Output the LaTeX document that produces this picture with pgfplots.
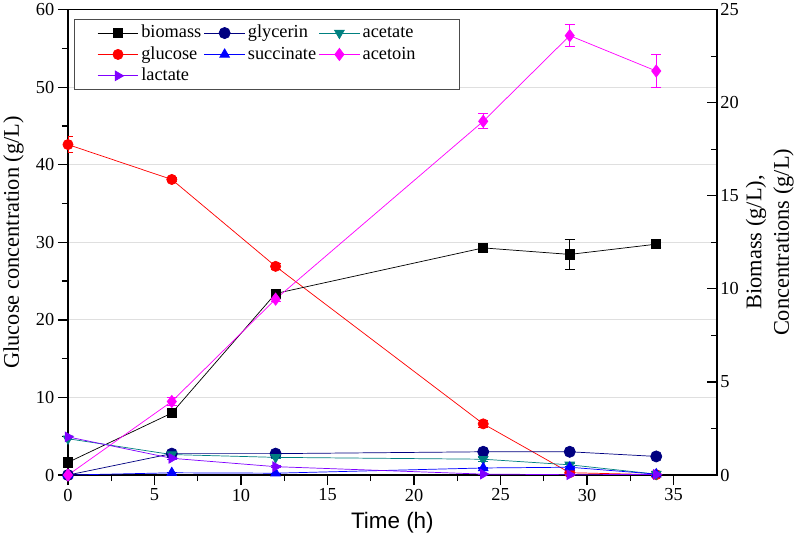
\documentclass[border=0pt]{standalone}
\usepackage{fontspec}
\setmainfont{Liberation Serif}
\setsansfont{Liberation Sans}
\usepackage{pgfplots}
\pgfplotsset{compat=1.18}
\definecolor{cGlucose}{HTML}{FF0000}
\definecolor{cGlycerin}{HTML}{000080}
\definecolor{cSucc}{HTML}{0000FF}
\definecolor{cAcetate}{HTML}{008080}
\definecolor{cAcetoin}{HTML}{FF00FF}
\definecolor{cLactate}{HTML}{8000FF}

\pgfplotsset{
  base/.style={
    scale only axis, width=637pt, height=457pt,
    xmin=0, xmax=37.5,
    major tick length=10pt, minor tick length=6pt,
    tick style={line width=1.2pt, black},
    axis line style={line width=1.4pt},
    label style={font=\rmfamily\fontsize{22}{27}\selectfont},
    ticklabel style={font=\rmfamily\fontsize{18}{20}\selectfont},
    /pgf/number format/assume math mode=true,
  },
  ser/.style={#1, line width=0.7pt, mark options={solid, fill=#1},
    error bars/y dir=both, error bars/y explicit,
    error bars/error bar style={line width=0.8pt, #1},
    error bars/error mark options={rotate=90, mark size=5pt, line width=0.8pt, #1}},
  longlegend/.style={legend image code/.code={\draw[mark repeat=2,mark phase=2]
      plot coordinates {(0pt,0pt) (20pt,0pt) (40pt,0pt)};}},
}

\begin{document}
\begin{tikzpicture}
% left axis: glucose
\begin{axis}[base,
  ymin=0, ymax=60,
  xtick={0,5,...,35}, ytick={0,10,...,60},
  minor x tick num=1, minor y tick num=1,
  xtick pos=bottom, ytick pos=left, tick align=outside,
  ymajorgrids, grid style={gray!25, line width=0.8pt},
  xlabel={\sffamily Time (h)}, ylabel={Glucose concentration (g/L)},
  ylabel shift=5pt, xlabel shift=4pt,
]
\addplot[ser=cGlucose, mark=*, mark size=5pt] coordinates {
  (0,42.6) +- (0,1.0) (6,38.1) +- (0,0.3) (12,26.9) +- (0,0.4)
  (24,6.6) +- (0,0.5) (29,0.3) +- (0,0.3) (34,0.05) +- (0,0)};
\end{axis}
% right axis: biomass and products
\begin{axis}[base,
  ymin=0, ymax=25,
  axis x line=none, axis y line*=right,
  ytick={0,5,...,25}, minor y tick num=1, tick align=inside,
  ylabel={Biomass (g/L),\\Concentrations (g/L)}, ylabel style={align=center},
  every axis plot post/.append style={longlegend},
  legend columns=3,
  legend style={at={(0.01,0.98)}, anchor=north west, draw=black!70,
    line width=0.8pt, font=\rmfamily\fontsize{18}{20}\selectfont,
    inner xsep=22pt, inner ysep=3pt, row sep=0pt,
    nodes={inner xsep=2.5pt, inner ysep=2pt, text height=13pt, text depth=4pt},
    /tikz/column 6/.style={nodes={text width=70pt}}},
  legend cell align=left,
]
\addplot[ser=black, mark=square*, mark size=4.5pt] coordinates {
  (0,0.68) +- (0,0.2) (6,3.33) +- (0,0.2) (12,9.75) +- (0,0.15)
  (24,12.2) +- (0,0.2) (29,11.85) +- (0,0.8) (34,12.4) +- (0,0.15)};
\addlegendentry{biomass}
\addplot[ser=cGlycerin, mark=*, mark size=5.5pt] coordinates {
  (0,0) +- (0,0) (6,1.15) +- (0,0.05) (12,1.15) +- (0,0.05)
  (24,1.25) +- (0,0.05) (29,1.25) +- (0,0.05) (34,1.0) +- (0,0.05)};
\addlegendentry{glycerin}
\addplot[ser=cAcetate, mark=triangle*, mark size=5.5pt, mark options={rotate=180}] coordinates {
  (0,1.95) +- (0,0.05) (6,1.1) +- (0,0.05) (12,0.95) +- (0,0.05)
  (24,0.85) +- (0,0.1) (29,0.55) +- (0,0.1) (34,0.05) +- (0,0)};
\addlegendentry{acetate}
\addlegendimage{ser=cGlucose, mark=*, mark size=5pt, longlegend}
\addlegendentry{glucose}
\addplot[ser=cSucc, mark=triangle*, mark size=5.5pt] coordinates {
  (0,0) +- (0,0) (6,0.12) +- (0,0) (12,0.1) +- (0,0)
  (24,0.38) +- (0,0.05) (29,0.42) +- (0,0.05) (34,0.05) +- (0,0)};
\addlegendentry{succinate}
\addplot[ser=cAcetoin, mark=diamond*, mark size=6pt] coordinates {
  (0,0) +- (0,0) (6,3.95) +- (0,0.2) (12,9.45) +- (0,0.15)
  (24,19.0) +- (0,0.4) (29,23.6) +- (0,0.6) (34,21.7) +- (0,0.9)};
\addlegendentry{acetoin}
\addplot[ser=cLactate, mark=triangle*, mark size=5.5pt, mark options={rotate=-90}] coordinates {
  (0,2.05) +- (0,0.05) (6,0.9) +- (0,0.05) (12,0.45) +- (0,0.05)
  (24,0.05) +- (0,0) (29,0.02) +- (0,0) (34,0.03) +- (0,0)};
\addlegendentry{lactate}
\end{axis}
\end{tikzpicture}
\end{document}
